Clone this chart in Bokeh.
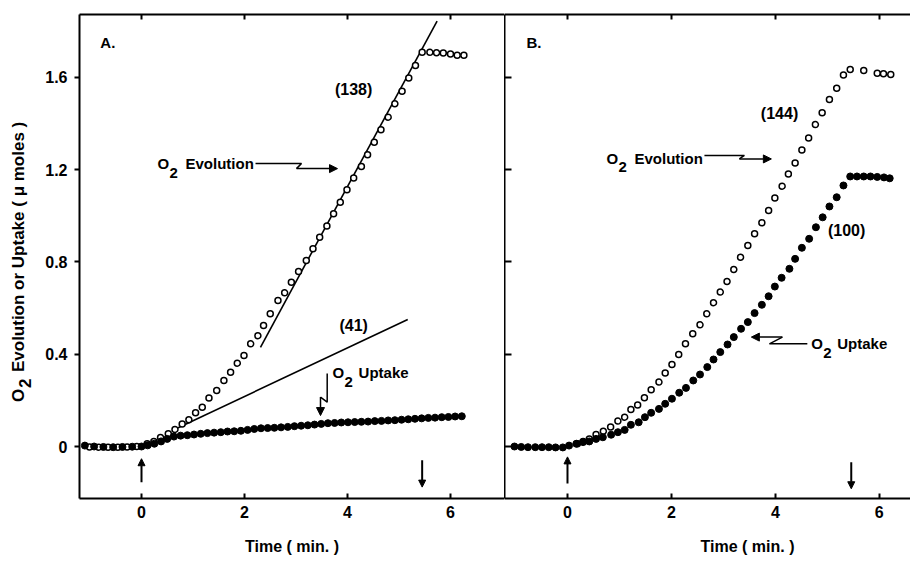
import math
from bokeh.plotting import figure
from bokeh.models import Range1d, LinearAxis, FixedTicker, Label, Arrow, NormalHead, NumeralTickFormatter
from bokeh.layouts import row
from bokeh.embed import file_html
from bokeh.resources import INLINE

# ---------------- data (time in min, O2 in micromoles) ----------------
x_ticks = [0, 2, 4, 6]
y_ticks = [0, 0.4, 0.8, 1.2, 1.6]

# Panel A  -- O2 evolution (open circles)
a_evo_t = [-1.01, -0.83, -0.65, -0.46, -0.28, -0.09,
           0.11, 0.24, 0.37, 0.52, 0.65, 0.79, 0.92, 1.05, 1.18, 1.31, 1.46, 1.6, 1.73, 1.86,
           1.99, 2.12, 2.26, 2.37, 2.5, 2.65, 2.78, 2.91, 3.05, 3.2, 3.33, 3.46, 3.6, 3.73,
           3.86, 3.99, 4.12, 4.27, 4.39, 4.52, 4.65, 4.79, 4.92, 5.06, 5.19, 5.32, 5.45,
           5.6, 5.73, 5.86, 6.0, 6.13, 6.26]
a_evo_v = [-0.002, -0.003, -0.003, -0.003, -0.002, 0.0,
           0.012, 0.022, 0.039, 0.055, 0.074, 0.098, 0.116, 0.146, 0.17, 0.21, 0.243, 0.286, 0.322, 0.361,
           0.394, 0.445, 0.48, 0.524, 0.575, 0.633, 0.666, 0.712, 0.758, 0.806, 0.857, 0.907, 0.955, 1.008,
           1.058, 1.113, 1.163, 1.213, 1.264, 1.318, 1.372, 1.427, 1.485, 1.539, 1.597, 1.651, 1.708,
           1.708, 1.706, 1.705, 1.701, 1.695, 1.695]

# Panel A  -- O2 uptake (filled circles)
a_upt_t = [-1.1, -0.92, -0.74, -0.55, -0.37, -0.18, 0.0,
           0.12, 0.25, 0.38, 0.5, 0.63, 0.76, 0.89, 1.02, 1.15, 1.28, 1.41, 1.54, 1.67, 1.8,
           1.93, 2.06, 2.19, 2.32, 2.45, 2.58, 2.71, 2.84, 2.97, 3.1, 3.23, 3.36, 3.49, 3.62,
           3.75, 3.88, 4.01, 4.14, 4.27, 4.4, 4.53, 4.66, 4.79, 4.92, 5.05, 5.18, 5.31, 5.44,
           5.57, 5.7, 5.83, 5.96, 6.09, 6.22]
a_upt_v = [0.004, 0.0, -0.002, -0.003, -0.002, -0.001, 0.0,
           0.005, 0.012, 0.022, 0.033, 0.043, 0.047, 0.049, 0.052, 0.055, 0.058, 0.06, 0.062, 0.065, 0.066,
           0.068, 0.072, 0.076, 0.079, 0.08, 0.081, 0.083, 0.085, 0.088, 0.09, 0.092, 0.095, 0.098, 0.101,
           0.102, 0.104, 0.105, 0.106, 0.107, 0.108, 0.11, 0.111, 0.113, 0.114, 0.116, 0.118, 0.12, 0.122,
           0.124, 0.125, 0.127, 0.128, 0.13, 0.131]

# Panel A fitted rate lines
a_fit138_t = [2.31, 5.74]
a_fit138_v = [0.43, 1.843]
a_fit41_t = [0.66, 5.17]
a_fit41_v = [0.076, 0.55]

# Panel B  -- O2 evolution (open circles)
b_evo_t = [0.19, 0.3, 0.42, 0.55, 0.69, 0.83, 0.97, 1.1, 1.22, 1.35, 1.48, 1.61, 1.76, 1.88, 2.01,
           2.14, 2.27, 2.41, 2.55, 2.68, 2.81, 2.94, 3.07, 3.2, 3.33, 3.47, 3.6, 3.74, 3.87, 3.99,
           4.13, 4.25, 4.38, 4.51, 4.64, 4.77, 4.9, 5.04, 5.18, 5.31, 5.44, 5.7, 5.96, 6.08, 6.22]
b_evo_v = [0.012, 0.022, 0.033, 0.052, 0.066, 0.084, 0.11, 0.127, 0.16, 0.18, 0.211, 0.246, 0.279, 0.318, 0.355,
           0.399, 0.445, 0.488, 0.527, 0.575, 0.623, 0.669, 0.715, 0.767, 0.82, 0.871, 0.922, 0.969, 1.023, 1.077,
           1.128, 1.181, 1.228, 1.285, 1.337, 1.395, 1.446, 1.503, 1.552, 1.61, 1.633, 1.629, 1.617, 1.615, 1.612]

# Panel B  -- O2 uptake (filled circles)
b_upt_t = [-1.02, -0.89, -0.76, -0.62, -0.49, -0.36, -0.23, -0.09,
           0.03, 0.17, 0.3, 0.42, 0.55, 0.68, 0.84, 0.97, 1.1, 1.22, 1.37, 1.49, 1.61, 1.76, 1.88,
           2.01, 2.15, 2.28, 2.42, 2.55, 2.69, 2.81, 2.94, 3.08, 3.2, 3.34, 3.47, 3.6, 3.74, 3.87,
           3.99, 4.12, 4.27, 4.38, 4.51, 4.65, 4.78, 4.91, 5.04, 5.18, 5.31, 5.44, 5.57, 5.7, 5.83,
           5.96, 6.09, 6.2]
b_upt_v = [0.0, -0.002, -0.003, -0.003, -0.003, -0.003, -0.004, -0.004,
           0.004, 0.012, 0.019, 0.022, 0.033, 0.04, 0.051, 0.062, 0.072, 0.094, 0.105, 0.127, 0.146, 0.163, 0.185,
           0.207, 0.233, 0.254, 0.286, 0.312, 0.344, 0.377, 0.409, 0.442, 0.474, 0.51, 0.539, 0.578, 0.614, 0.651,
           0.693, 0.731, 0.77, 0.813, 0.861, 0.9, 0.95, 0.993, 1.04, 1.08, 1.131, 1.17, 1.17, 1.17, 1.17,
           1.168, 1.166, 1.162]

# light on / light off markers (min)
light_on_t = 0.0
a_light_off_t = 5.45
b_light_off_t = 5.46

# ---------------- styling / layout ----------------
FONT = "Liberation Sans"
Y_RANGE = (-0.2253, 1.8718)
A_XRANGE = (-1.204, 7.049)
B_XRANGE = (-1.212, 6.6)
H = 562
NBSP = "\u00a0"


def base_fig(width, left, xr, yr=Y_RANGE, top=14, bottom=64):
    p = figure(width=width, height=H, x_range=Range1d(*xr), y_range=Range1d(*yr),
               output_backend="svg", toolbar_location=None,
               x_axis_location=None, y_axis_location=None,
               min_border_left=left, min_border_right=0, min_border_top=top, min_border_bottom=bottom)
    p.outline_line_color = None
    p.xgrid.visible = False
    p.ygrid.visible = False
    p.background_fill_color = "white"
    p.border_fill_color = "white"
    return p


def add_axis(p, loc, ticks, labels, tin, tout, fmt=None, title=None):
    ax = LinearAxis(ticker=FixedTicker(ticks=ticks, minor_ticks=[]))
    ax.axis_line_width = 2
    ax.axis_line_color = "black"
    ax.major_tick_line_width = 2
    ax.major_tick_in = tin
    ax.major_tick_out = tout
    ax.minor_tick_line_color = None
    if fmt is not None:
        ax.formatter = fmt
    if labels:
        ax.major_label_text_font = FONT
        ax.major_label_text_font_style = "bold"
        ax.major_label_text_font_size = "16px"
        ax.major_label_text_color = "black"
        ax.major_label_standoff = 7
    else:
        ax.major_label_text_color = None
        ax.major_label_text_font_size = "1px"
        ax.major_label_standoff = 0
    if title is not None:
        ax.axis_label = title
        ax.axis_label_text_font = FONT
        ax.axis_label_text_font_style = "bold"
        ax.axis_label_text_font_size = "16px"
        ax.axis_label_text_color = "black"
        ax.axis_label_standoff = 17
    p.add_layout(ax, loc)


def txt(p, x, y, s, size=15, align="left", xo=0, yo=0, angle=0, style="bold"):
    p.add_layout(Label(x=x, y=y, text=s, x_offset=xo, y_offset=yo, angle=angle,
                       text_font=FONT, text_font_size=f"{size}px", text_font_style=style,
                       text_align=align, text_baseline="middle", text_color="black"))


def o2(p, x, y, rest, rest_dx=28):
    txt(p, x, y, "O")
    txt(p, x, y, "2", xo=12, yo=-9)
    txt(p, x, y, rest, xo=rest_dx)


def arrow(p, x0, y0, x1, y1, lw=1.5, size=8):
    p.add_layout(Arrow(end=NormalHead(size=size, line_color="black", fill_color="black", line_width=1),
                       x_start=x0, y_start=y0, x_end=x1, y_end=y1,
                       line_width=lw, line_color="black"))


# ---------------- y-axis title strip (pixel coordinates) ----------------
YL_X = 18
YL_Y = H - 450
pY = base_fig(40, 0, (0, 40), yr=(0, H), top=0, bottom=0)
txt(pY, YL_X, YL_Y, "O", size=17, angle=math.pi / 2)
txt(pY, YL_X, YL_Y, "2", size=17, angle=math.pi / 2, xo=6, yo=14)
txt(pY, YL_X, YL_Y, "Evolution or Uptake ( \u03bc moles )", size=17, angle=math.pi / 2, yo=30)

# ---------------- panel A ----------------
pA = base_fig(464, 39, A_XRANGE)
add_axis(pA, "left", y_ticks, True, 0, 5, NumeralTickFormatter(format="0.[0]"))
add_axis(pA, "below", x_ticks, True, 5, 0, title="Time ( min. )")
add_axis(pA, "above", x_ticks, False, 5, 0)

pA.line(a_fit138_t, a_fit138_v, line_color="black", line_width=1.6)
pA.line(a_fit41_t, a_fit41_v, line_color="black", line_width=1.6)
pA.scatter(a_evo_t, a_evo_v, marker="circle", size=6, fill_color="white",
           line_color="black", line_width=1.5)
pA.scatter(a_upt_t, a_upt_v, marker="circle", size=7, fill_color="black",
           line_color="black", line_width=1)

txt(pA, -0.8, 1.75, "A.", size=15)
txt(pA, 4.12, 1.547, "(138)", size=16, align="center")
txt(pA, 4.12, 0.524, "(41)", size=16, align="center")
o2(pA, 0.31, 1.226, "Evolution")
o2(pA, 3.71, 0.32, "Uptake", rest_dx=26)

# zig-zag pointer to evolution curve
pA.line([2.214, 3.107, 3.01], [1.226, 1.226, 1.204], line_color="black", line_width=1.5)
arrow(pA, 3.01, 1.204, 3.806, 1.204)
# zig-zag pointer to uptake curve
pA.line([3.606, 3.606, 3.476], [0.316, 0.192, 0.214], line_color="black", line_width=1.5)
arrow(pA, 3.476, 0.214, 3.476, 0.134)
# light on / off arrows
arrow(pA, light_on_t, -0.155, light_on_t, -0.053, lw=2, size=7)
arrow(pA, a_light_off_t, -0.06, a_light_off_t, -0.176, lw=2, size=7)

# ---------------- panel B ----------------
pB = base_fig(406, 0, B_XRANGE)
add_axis(pB, "left", y_ticks, False, 7, 0)
add_axis(pB, "below", x_ticks, True, 5, 0, title=NBSP * 18 + "Time ( min. )")
add_axis(pB, "above", x_ticks, False, 5, 0)

pB.scatter(b_evo_t, b_evo_v, marker="circle", size=6, fill_color="white",
           line_color="black", line_width=1.5)
pB.scatter(b_upt_t, b_upt_v, marker="circle", size=7, fill_color="black",
           line_color="black", line_width=1)

txt(pB, -0.79, 1.75, "B.", size=15)
txt(pB, 4.08, 1.443, "(144)", size=16, align="center")
txt(pB, 5.37, 0.936, "(100)", size=16, align="center")
o2(pB, 0.75, 1.248, "Evolution")
o2(pB, 4.69, 0.446, "Uptake", rest_dx=26)

pB.line([2.635, 3.404, 3.308], [1.261, 1.261, 1.246], line_color="black", line_width=1.5)
arrow(pB, 3.308, 1.246, 3.923, 1.246)
pB.line([4.615, 3.885, 4.135], [0.445, 0.445, 0.474], line_color="black", line_width=1.5)
arrow(pB, 4.135, 0.474, 3.538, 0.474)
arrow(pB, light_on_t, -0.16, light_on_t, -0.045, lw=2, size=7)
arrow(pB, b_light_off_t, -0.068, b_light_off_t, -0.183, lw=2, size=7)

layout = row(pY, pA, pB)
open("out.html", "w").write(file_html(layout, INLINE))
